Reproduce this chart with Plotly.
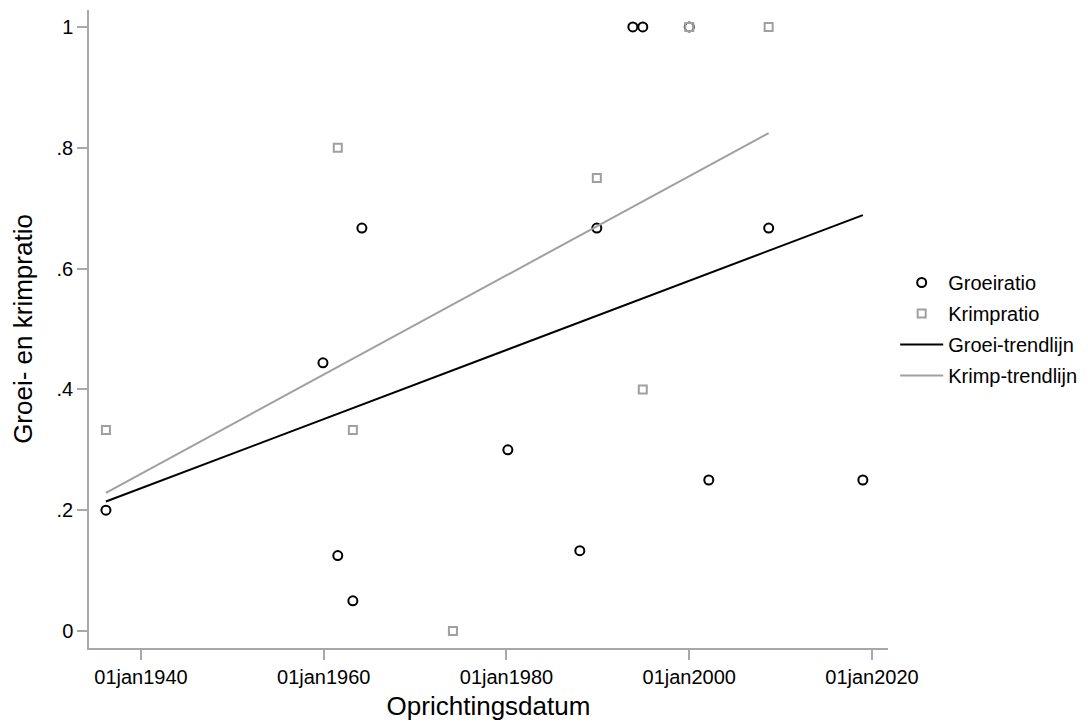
import numpy as np
import pandas as pd
import plotly.graph_objects as go

# Data
groei_dates = ["1936-03-01", "1959-12-01", "1961-07-15", "1963-03-10", "1964-03-05",
               "1980-02-25", "1988-01-10", "1989-11-20", "1993-10-30", "1994-12-01",
               "2000-01-01", "2002-02-20", "2008-09-10", "2019-01-01"]
groei_ratio = [0.2, 0.444, 0.125, 0.05, 0.667, 0.3, 0.133, 0.667, 1.0, 1.0, 1.0, 0.25, 0.667, 0.25]

krimp_dates = ["1936-03-01", "1961-07-15", "1963-03-10", "1974-02-20", "1989-11-20",
               "1994-12-01", "2000-01-01", "2008-09-10"]
krimp_ratio = [0.333, 0.8, 0.333, 0.0, 0.75, 0.4, 1.0, 1.0]

x_tick_dates = ["1940-01-01", "1960-01-01", "1980-01-01", "2000-01-01", "2020-01-01"]
x_tick_labels = ["01jan1940", "01jan1960", "01jan1980", "01jan2000", "01jan2020"]
y_tick_vals = [0, 0.2, 0.4, 0.6, 0.8, 1]
y_tick_labels = ["0", ".2", ".4", ".6", ".8", "1"]


def linfit(dates, vals):
    d = pd.to_datetime(pd.Series(dates))
    t = (d - pd.Timestamp("1960-01-01")).dt.days.to_numpy(dtype=float)
    b, a = np.polyfit(t, np.asarray(vals, dtype=float), 1)
    tt = np.array([t.min(), t.max()])
    xs = [pd.Timestamp("1960-01-01") + pd.Timedelta(days=float(v)) for v in tt]
    return xs, a + b * tt


gx, gy = linfit(groei_dates, groei_ratio)
kx, ky = linfit(krimp_dates, krimp_ratio)

BLACK = "#000000"
GRAY = "#a0a0a0"
AXIS = "#a8a8a8"
FONT = "Liberation Sans, Arial, Helvetica, sans-serif"

fig = go.Figure()
fig.add_trace(go.Scatter(x=pd.to_datetime(groei_dates), y=groei_ratio, mode="markers",
                         name="Groeiratio", legendgroup="a",
                         marker=dict(symbol="circle-open", size=9, color=BLACK,
                                     line=dict(width=2, color=BLACK))))
fig.add_trace(go.Scatter(x=pd.to_datetime(krimp_dates), y=krimp_ratio, mode="markers",
                         name="Krimpratio", legendgroup="b",
                         marker=dict(symbol="square-open", size=8, color=GRAY,
                                     line=dict(width=2, color=GRAY))))
fig.add_trace(go.Scatter(x=gx, y=gy, mode="lines", name="Groei-trendlijn", legendgroup="c",
                         line=dict(color=BLACK, width=2)))
fig.add_trace(go.Scatter(x=kx, y=ky, mode="lines", name="Krimp-trendlijn", legendgroup="d",
                         line=dict(color=GRAY, width=2)))

# The page body has an 8px margin, so the figure is sized/margined to compensate.
fig.update_layout(
    width=1080, height=716,
    margin=dict(l=81, r=200, t=2, b=76),
    paper_bgcolor="white", plot_bgcolor="white",
    font=dict(family=FONT, size=20, color="black"),
    showlegend=True,
    legend=dict(x=1.009, xanchor="left", y=0.5, yanchor="middle",
                font=dict(size=20), traceorder="grouped", tracegroupgap=2,
                itemwidth=43, bgcolor="rgba(0,0,0,0)"),
    xaxis=dict(
        type="date",
        range=["1934-04-24", "2021-10-02"],
        tickvals=pd.to_datetime(x_tick_dates), ticktext=x_tick_labels,
        showgrid=False, zeroline=False,
        showline=True, linecolor=AXIS, linewidth=1.5,
        ticks="outside", ticklen=10, tickcolor=AXIS, tickwidth=1.5,
        tickfont=dict(size=20, family=FONT),
        title=dict(text="Oprichtingsdatum", font=dict(size=26, family=FONT), standoff=10),
    ),
    yaxis=dict(
        range=[-0.0281, 1.0281],
        tickvals=y_tick_vals, ticktext=y_tick_labels,
        showgrid=False, zeroline=False,
        showline=True, linecolor=AXIS, linewidth=1.5,
        ticks="outside", ticklen=10, tickcolor=AXIS, tickwidth=1.5,
        tickfont=dict(size=20, family=FONT),
        title=dict(text="Groei- en krimpratio", font=dict(size=26, family=FONT), standoff=16),
    ),
)

fig.write_html("out.html")
